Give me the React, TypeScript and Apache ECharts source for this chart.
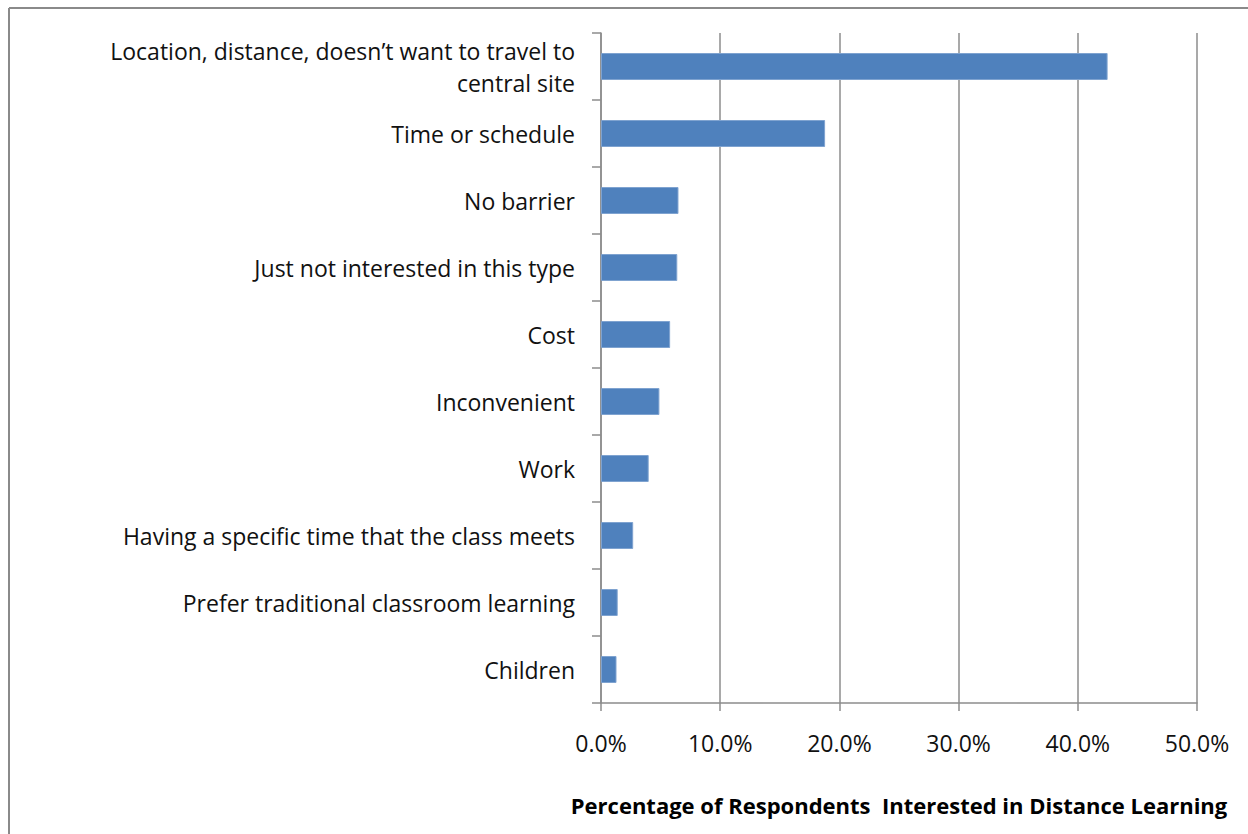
import React, { useEffect, useRef } from "react";
import * as echarts from "echarts";

const categories = [
  "Location, distance, doesn\u2019t want to travel to\ncentral site",
  "Time or schedule",
  "No barrier",
  "Just not interested in this type",
  "Cost",
  "Inconvenient",
  "Work",
  "Having a specific time that the class meets",
  "Prefer traditional classroom learning",
  "Children",
];
const values = [42.5, 18.8, 6.5, 6.4, 5.8, 4.9, 4.0, 2.7, 1.4, 1.3];
const xTicks = { min: 0, max: 50, interval: 10 };
const axisTitle = "Percentage of Respondents  Interested in Distance Learning";

const FONT = "Open Sans";

export default function App() {
  const ref = useRef<HTMLDivElement>(null);
  useEffect(() => {
    const chart = echarts.init(ref.current!, null, { renderer: "svg" });
    chart.setOption({
      animation: false,
      backgroundColor: "#ffffff",
      grid: { left: 601, right: 51, top: 33, bottom: 131, containLabel: false },
      xAxis: {
        type: "value",
        min: xTicks.min,
        max: xTicks.max,
        interval: xTicks.interval,
        axisLine: { show: true, lineStyle: { color: "#8c8c8c", width: 1.5 } },
        axisTick: { show: true, length: 8, lineStyle: { color: "#8c8c8c", width: 1.5 } },
        splitLine: { show: true, lineStyle: { color: "#8c8c8c", width: 1.5 } },
        axisLabel: {
          formatter: (v: number) => v.toFixed(1) + "%",
          color: "#111",
          fontFamily: FONT,
          fontSize: 23,
          margin: 28,
        },
        name: axisTitle,
        nameLocation: "middle",
        nameGap: 91,
        nameTextStyle: { color: "#000", fontFamily: FONT, fontSize: 22, fontWeight: "bold" },
      },
      yAxis: {
        type: "category",
        data: categories,
        inverse: true,
        axisLine: { show: true, lineStyle: { color: "#8c8c8c", width: 1.5 } },
        axisTick: { show: true, length: 9, alignWithLabel: false, lineStyle: { color: "#8c8c8c", width: 1.5 } },
        axisLabel: {
          color: "#111",
          fontFamily: FONT,
          fontSize: 23,
          margin: 26,
          lineHeight: 32,
          align: "right",
        },
      },
      series: [
        {
          type: "bar",
          data: values,
          barWidth: 27,
          itemStyle: { color: "#4f81bd", borderColor: "#7fa3d0", borderWidth: 1 },
        },
      ],
      graphic: [
        { type: "line", shape: { x1: 9, y1: 8, x2: 1248, y2: 8 }, style: { stroke: "#8a8a8a", lineWidth: 2 } },
        { type: "line", shape: { x1: 9, y1: 8, x2: 9, y2: 834 }, style: { stroke: "#8a8a8a", lineWidth: 2 } },
      ],
    });
    return () => chart.dispose();
  }, []);
  return (
    <div
      ref={ref}
      style={{ position: "fixed", left: 0, top: 0, width: 1248, height: 834 }}
    />
  );
}
